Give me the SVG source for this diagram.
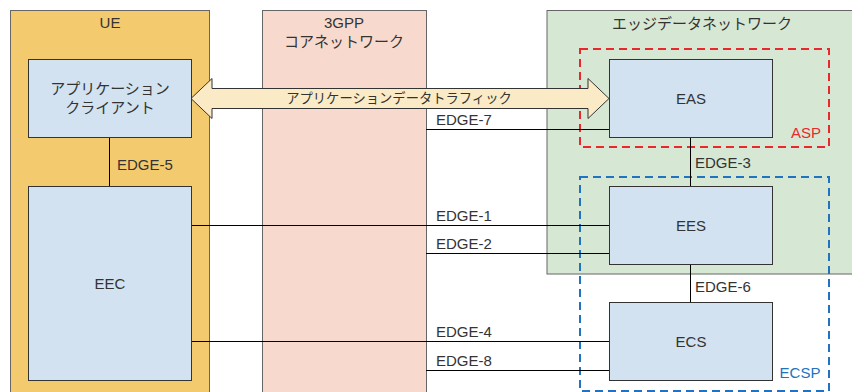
<svg xmlns="http://www.w3.org/2000/svg" width="852" height="392" viewBox="0 0 852 392">
  <style>
    text { font-family: "Liberation Sans", "Noto Sans CJK JP", sans-serif; font-size: 15px; fill: #333333; }
    .mid { text-anchor: middle; }
    .small { font-size: 13.3px; }
    .box { fill: #d2e2f0; stroke: #333333; stroke-width: 1; }
    .link { stroke: #000000; stroke-width: 1; fill: none; }
    .domain { stroke: #666666; stroke-width: 1; }
  </style>

  <!-- domains -->
  <g id="ue">
    <rect x="10.5" y="10.5" width="199" height="400" fill="#f3ca6e" class="domain" stroke="#444444"/>
    <text x="110" y="28" class="mid">UE</text>
  </g>
  <g id="core">
    <rect x="262.5" y="10.5" width="164" height="400" fill="#f7dacd" class="domain"/>
    <text x="344" y="28" class="mid">3GPP</text>
    <text x="344" y="47" class="mid">コアネットワーク</text>
  </g>
  <g id="edge-dn">
    <rect x="547" y="10.5" width="320" height="263.5" fill="#d6e8d4" class="domain"/>
    <text x="702" y="29" class="mid">エッジデータネットワーク</text>
  </g>

  <!-- provider regions -->
  <g id="asp">
    <rect x="580" y="49" width="249" height="98" fill="none" stroke="#e8282c" stroke-width="2" stroke-dasharray="8 5"/>
    <text x="806" y="138" class="mid" style="fill:#e8282c">ASP</text>
  </g>
  <g id="ecsp">
    <rect x="580" y="177" width="249" height="214" fill="none" stroke="#2173c2" stroke-width="2" stroke-dasharray="8 5"/>
    <text x="800" y="378" class="mid" style="fill:#2173c2">ECSP</text>
  </g>

  <!-- connectors -->
  <g id="connectors">
    <line x1="109.5" y1="137" x2="109.5" y2="186" class="link"/>
    <text x="117" y="170">EDGE-5</text>

    <line x1="426" y1="129.5" x2="609" y2="129.5" class="link"/>
    <text x="436" y="125">EDGE-7</text>

    <line x1="191" y1="225.5" x2="609" y2="225.5" class="link"/>
    <text x="436" y="221">EDGE-1</text>
    <line x1="426" y1="253.5" x2="609" y2="253.5" class="link"/>
    <text x="436" y="249">EDGE-2</text>

    <line x1="191" y1="341.5" x2="609" y2="341.5" class="link"/>
    <text x="436" y="337">EDGE-4</text>
    <line x1="426" y1="370.5" x2="609" y2="370.5" class="link"/>
    <text x="436" y="366">EDGE-8</text>

    <line x1="690.5" y1="137" x2="690.5" y2="186" class="link"/>
    <text x="695" y="168">EDGE-3</text>
    <line x1="690.5" y1="265" x2="690.5" y2="302" class="link"/>
    <text x="695" y="292">EDGE-6</text>

    <!-- application data traffic (bidirectional block arrow) -->
    <path d="M191,98.5 L212,78.5 L212,88.5 L588,88.5 L588,78.5 L609,98.5 L588,118.5 L588,108.5 L212,108.5 L212,118.5 Z" fill="#faebc6" stroke="#333333" stroke-width="1"/>
    <text x="399" y="103" class="mid small">アプリケーションデータトラフィック</text>
  </g>

  <!-- functional entities -->
  <g id="app-client">
    <rect x="28.5" y="59.5" width="163" height="78" class="box"/>
    <text x="110" y="94" class="mid">アプリケーション</text>
    <text x="110" y="113" class="mid">クライアント</text>
  </g>
  <g id="eec">
    <rect x="28.5" y="186.5" width="163" height="194" class="box"/>
    <text x="110" y="289" class="mid">EEC</text>
  </g>
  <g id="eas">
    <rect x="609.5" y="59.5" width="163" height="78" class="box"/>
    <text x="691" y="104" class="mid">EAS</text>
  </g>
  <g id="ees">
    <rect x="609.5" y="186.5" width="163" height="78" class="box"/>
    <text x="691" y="231" class="mid">EES</text>
  </g>
  <g id="ecs">
    <rect x="609.5" y="302.5" width="163" height="78" class="box"/>
    <text x="691" y="347" class="mid">ECS</text>
  </g>
</svg>
